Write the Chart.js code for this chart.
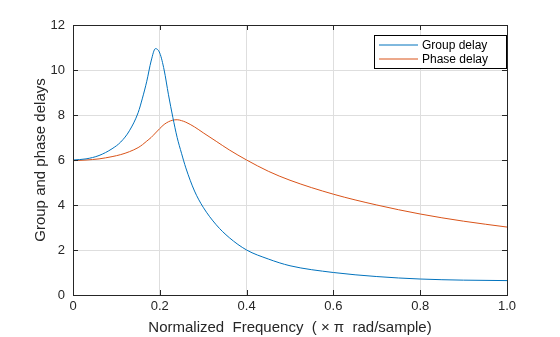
<!DOCTYPE html>
<html>
<head>
<meta charset="utf-8">
<script src="https://cdn.jsdelivr.net/npm/chart.js@4"></script>
<style>
  html, body { margin: 0; padding: 0; background: #fff; }
  #wrap { width: 560px; height: 337px; }
</style>
</head>
<body>
<div id="wrap"><canvas id="c" width="560" height="337"></canvas></div>
<script>
const freq = [0, 0.03, 0.06, 0.09, 0.11, 0.13, 0.15, 0.16, 0.17, 0.18, 0.19, 0.2, 0.21, 0.22, 0.23, 0.24, 0.25, 0.26, 0.28, 0.3, 0.33, 0.36, 0.4, 0.45, 0.5, 0.6, 0.7, 0.8, 0.9, 1.0];
const groupDelay = [6.0, 6.05, 6.2, 6.5, 6.8, 7.3, 8.1, 8.75, 9.5, 10.4, 10.95, 10.75, 10.0, 8.9, 7.9, 7.0, 6.3, 5.65, 4.62, 3.9, 3.12, 2.55, 2.0, 1.6, 1.3, 1.0, 0.82, 0.71, 0.66, 0.64];
const phaseDelay = [5.97, 6.0, 6.05, 6.15, 6.24, 6.37, 6.55, 6.68, 6.84, 7.0, 7.2, 7.4, 7.58, 7.7, 7.77, 7.79, 7.75, 7.68, 7.47, 7.21, 6.83, 6.45, 6.0, 5.5, 5.1, 4.48, 4.0, 3.6, 3.28, 3.02];
const seriesNames = ['Group delay', 'Phase delay'];
const colors = ['#0072BD', '#D95319'];

const font = 'Liberation Sans, Arial, Helvetica, sans-serif';
const ink = '#262626';

const toPoints = ys => freq.map((f, i) => ({ x: f, y: ys[i] }));

const frame = {
  id: 'frame',
  afterDraw(chart) {
    const { ctx, chartArea: a, scales } = chart;
    ctx.save();
    ctx.strokeStyle = ink;
    ctx.lineWidth = 1;
    ctx.beginPath();
    scales.x.ticks.forEach(t => {
      const px = Math.round(scales.x.getPixelForValue(t.value)) + 0.5;
      ctx.moveTo(px, a.bottom); ctx.lineTo(px, a.bottom - 5);
      ctx.moveTo(px, a.top); ctx.lineTo(px, a.top + 5);
    });
    scales.y.ticks.forEach(t => {
      const py = Math.round(scales.y.getPixelForValue(t.value)) + 0.5;
      ctx.moveTo(a.left, py); ctx.lineTo(a.left + 5, py);
      ctx.moveTo(a.right, py); ctx.lineTo(a.right - 5, py);
    });
    ctx.stroke();
    ctx.strokeRect(Math.round(a.left) + 0.5, Math.round(a.top) + 0.5,
      Math.round(a.right - a.left), Math.round(a.bottom - a.top));

    // legend box, top right inside the axes
    const bx = 374.5, by = 35.5, bw = 132, bh = 33;
    ctx.fillStyle = '#fff';
    ctx.fillRect(bx, by, bw, bh);
    ctx.strokeStyle = '#000';
    ctx.strokeRect(bx, by, bw, bh);
    ctx.font = '12px ' + font;
    ctx.textBaseline = 'middle';
    seriesNames.forEach((name, i) => {
      const y = 45 + i * 14;
      ctx.strokeStyle = colors[i];
      ctx.beginPath();
      ctx.moveTo(379, y); ctx.lineTo(418, y);
      ctx.stroke();
      ctx.fillStyle = '#000';
      ctx.fillText(name, 422, y + 1);
    });
    ctx.restore();
  }
};

new Chart(document.getElementById('c'), {
  type: 'line',
  data: {
    datasets: seriesNames.map((name, i) => ({
      label: name,
      data: toPoints(i === 0 ? groupDelay : phaseDelay),
      borderColor: colors[i],
      borderWidth: 1,
      pointRadius: 0,
      fill: false,
      cubicInterpolationMode: 'monotone'
    }))
  },
  options: {
    responsive: false,
    animation: false,
    layout: { padding: { top: 25, right: 53, left: 0, bottom: 0 } },
    plugins: {
      legend: { display: false },
      tooltip: { enabled: false },
      title: { display: false }
    },
    scales: {
      x: {
        type: 'linear',
        min: 0, max: 1,
        ticks: { stepSize: 0.2, color: ink, font: { family: font, size: 13 }, padding: 4, maxRotation: 0 },
        grid: { color: '#dedede', drawTicks: false },
        border: { display: false },
        title: { display: true, text: 'Normalized  Frequency  ( \u00d7 \u03c0  rad/sample)', color: ink, font: { family: font, size: 15 }, padding: { top: 1, bottom: 0 } },
        afterFit: s => { s.height = 42; }
      },
      y: {
        min: 0, max: 12,
        ticks: { stepSize: 2, color: ink, font: { family: font, size: 13 }, padding: 8 },
        grid: { color: '#dedede', drawTicks: false },
        border: { display: false },
        title: { display: true, text: 'Group and phase delays', color: ink, font: { family: font, size: 15 }, padding: { top: 32, bottom: 0 } },
        afterFit: s => { s.width = 73; }
      }
    }
  },
  plugins: [frame]
});
</script>
</body>
</html>
